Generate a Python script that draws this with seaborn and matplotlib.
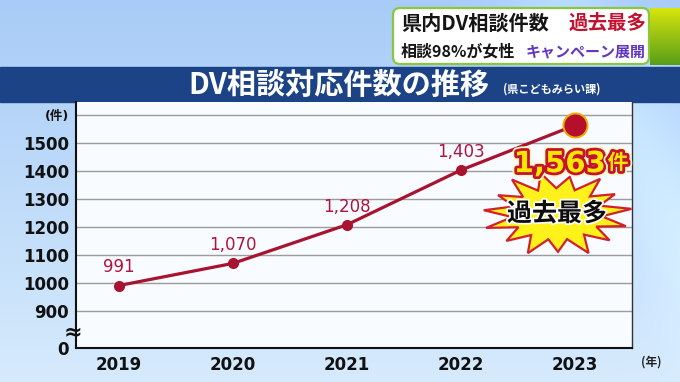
import numpy as np
import pandas as pd
import matplotlib
matplotlib.use("Agg")
import matplotlib.pyplot as plt
import matplotlib.transforms as mtransforms
import matplotlib.patheffects as pe
from matplotlib.patches import FancyBboxPatch, Rectangle, Polygon
import seaborn as sns

# ---------------- data ----------------
years = [2019, 2020, 2021, 2022, 2023]
counts = [991, 1070, 1208, 1403, 1563]
ytick_values = [900, 1000, 1100, 1200, 1300, 1400, 1500]
unit_tick_value = 1600
axis_floor_value = 768          # where the broken axis shows "0"
floor_label = "0"
unit_label = "(件)"
year_unit = "(年)"
title = "DV相談対応件数の推移"
source = "(県こどもみらい課)"
head1 = ["県内DV相談件数", "過去最多"]
head2 = ["相談98%が女性", "キャンペーン展開"]
record_text = "過去最多"

sns.set_theme(style="white")
CJK = ["Noto Sans CJK JP", "DejaVu Sans"]
LAT = ["DejaVu Sans", "Noto Sans CJK JP"]
plt.rcParams["font.family"] = LAT

W, H = 680, 382
fig = plt.figure(figsize=(6.8, 3.82), dpi=100)

# ---------------- background ----------------
bg = fig.add_axes([0, 0, 1, 1], zorder=0)
bg.set_xlim(0, W); bg.set_ylim(H, 0); bg.axis("off")
yy, xx = np.mgrid[0:H, 0:W]
top = np.array([0.66, 0.80, 0.97])
bot = np.array([0.84, 0.92, 0.99])
t = (yy / H)[..., None]
img = top * (1 - t) + bot * t
streak = np.exp(-((xx - 0.55 * yy - 560) / 60.0) ** 2)[..., None] * 0.06
img = np.clip(img + streak, 0, 1)
bg.imshow(img, extent=(0, W, H, 0), aspect="auto", zorder=0)

# title bar
bg.add_patch(Rectangle((0, 67), W, 35, color="#1b4386", zorder=2))

# headline banner
bg.add_patch(FancyBboxPatch((393, 8), 256, 56,
                            boxstyle="round,pad=0,rounding_size=7",
                            fc="white", ec="#8cc63f", lw=1.6, zorder=2))
g = np.linspace(0, 1, 60)[:, None, None]
green = np.array([0.84, 0.90, 0.05]) * (1 - g) + np.array([0.35, 0.62, 0.10]) * g
green = np.repeat(green, 10, axis=1)
bg.imshow(green, extent=(650, 680, 65, 8), aspect="auto", zorder=2)

# ---------------- main chart ----------------
line_color = "#a8132f"
label_color = "#b0143a"
ax = fig.add_axes([76 / W, 1 - 348 / H, 556 / W, 246 / H], zorder=1)
ax.set_facecolor("#f8fbff")

df = pd.DataFrame({"year": years, "count": counts})
sns.lineplot(data=df, x="year", y="count", ax=ax, color=line_color,
             lw=2.3, marker="o", markersize=8, markeredgewidth=0, zorder=4)
sns.scatterplot(data=df.iloc[[-1]], x="year", y="count", ax=ax, s=300,
                color="#b5102b", edgecolor="#f2a900", linewidth=1.4, zorder=6)

for yr, c in zip(years[:-1], counts[:-1]):
    ax.annotate(f"{c:,}", (yr, c), xytext=(0, 13), textcoords="offset points",
                ha="center", va="center", fontsize=12, color=label_color,
                family=LAT)

ax.set_xlim(2018.623, 2023.5)
ax.set_ylim(axis_floor_value, 1646)
ax.set_xticks(years)
ax.set_xticklabels([str(y) for y in years], fontsize=12, fontweight="bold",
                   color="#111111")
yt = [axis_floor_value] + ytick_values + [unit_tick_value]
ax.set_yticks(yt)
ax.set_yticklabels([floor_label] + [str(v) for v in ytick_values] + [unit_label],
                   fontsize=12, fontweight="bold", color="#111111", family=LAT)
ax.get_yticklabels()[-1].set_fontsize(9)
ax.tick_params(axis="both", length=0)
ax.tick_params(axis="y", pad=5)
ax.tick_params(axis="x", pad=6)
ax.set_xlabel(""); ax.set_ylabel("")
ax.yaxis.grid(True, color="#9c9c9c", lw=1)
ax.xaxis.grid(False)
for s in ["left", "bottom"]:
    ax.spines[s].set_color("#111111"); ax.spines[s].set_linewidth(1.5)
ax.spines["right"].set_color("#333333"); ax.spines["right"].set_linewidth(1.0)
ax.spines["top"].set_visible(False)

blend = mtransforms.blended_transform_factory(ax.transAxes, ax.transData)
ax.text(-0.006, 825, "≈", transform=blend, ha="center", va="center",
        fontsize=16, fontweight="bold", color="#111111", clip_on=False)

fig.text(651 / W, 1 - 362 / H, year_unit, fontsize=8.5, fontweight="bold",
         color="#222222", ha="center", va="center", family=CJK)

# ---------------- titles ----------------
fig.text(339 / W, 1 - 85 / H, title, fontsize=21, fontweight="bold",
         color="white", ha="center", va="center", family=CJK)
fig.text(503 / W, 1 - 89 / H, source, fontsize=8, fontweight="bold",
         color="white", ha="left", va="center", family=CJK)

fig.text(401 / W, 1 - 23 / H, head1[0], fontsize=14.5, fontweight="bold",
         color="#151515", ha="left", va="center", family=CJK)
fig.text(569 / W, 1 - 23 / H, head1[1], fontsize=14, fontweight="bold",
         color="#c3122f", ha="left", va="center", family=CJK)
fig.text(401 / W, 1 - 51 / H, head2[0], fontsize=11.5, fontweight="bold",
         color="#151515", ha="left", va="center", family=CJK)
fig.text(526 / W, 1 - 51 / H, head2[1], fontsize=10.8, fontweight="bold",
         color="#6236c0", ha="left", va="center", family=CJK)

# ---------------- overlay: record callout ----------------
ov = fig.add_axes([0, 0, 1, 1], zorder=3)
ov.set_xlim(0, W); ov.set_ylim(H, 0); ov.axis("off")
ov.patch.set_alpha(0)

n = 15
ang = np.linspace(0, 2 * np.pi, 2 * n, endpoint=False) + 0.12
outer = [1.0, 0.9, 1.0, 0.88, 0.97, 1.0, 0.9, 0.98, 1.0, 0.92, 0.99, 0.88, 1.0, 0.93, 0.96]
rad = np.array([outer[i // 2] if i % 2 == 0 else 0.6 for i in range(2 * n)])
cx, cy, rx, ry = 557, 214, 75, 43
pts = np.column_stack([cx + rx * rad * np.cos(ang), cy - ry * rad * np.sin(ang)])
ov.add_patch(Polygon(pts, closed=True, fc="#fff21a", ec="#d2202c", lw=1.6,
                     joinstyle="miter", zorder=1))
ov.text(cx, cy, record_text, fontsize=18, fontweight="bold", color="#0d0d0d",
        ha="center", va="center", family=CJK, zorder=2,
        path_effects=[pe.withStroke(linewidth=2.5, foreground="white")])

effects = [pe.Stroke(linewidth=6.5, foreground="#fff8c0"),
           pe.Stroke(linewidth=4, foreground="#c4122f"), pe.Normal()]
ov.annotate(f"{counts[-1]:,}", xy=(years[-1], counts[-1]), xycoords=ax.transData,
            xytext=(-11, -28), textcoords="offset points", ha="center",
            va="center", fontsize=21, fontweight="bold", color="#ffe600",
            family=LAT, path_effects=effects, zorder=3)
ov.annotate("件", xy=(years[-1], counts[-1]), xycoords=ax.transData,
            xytext=(31, -27), textcoords="offset points", ha="center",
            va="center", fontsize=15, fontweight="bold", color="#ffe600",
            family=CJK, path_effects=effects, zorder=3)

fig.savefig("out.png", dpi=100)
